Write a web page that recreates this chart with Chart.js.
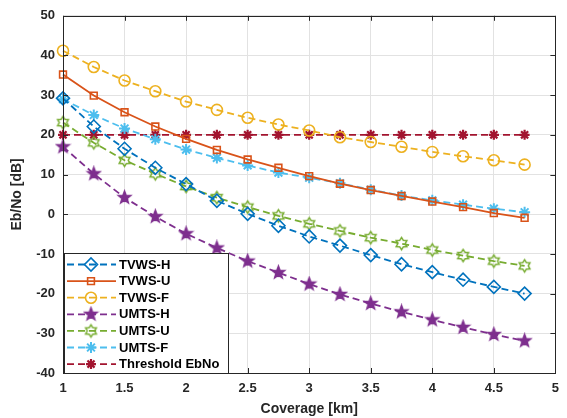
<!DOCTYPE html>
<html>
<head>
<meta charset="utf-8">
<script src="https://cdn.jsdelivr.net/npm/chart.js@4.4.0/dist/chart.umd.min.js"></script>
<style>
  html, body { margin: 0; padding: 0; background: #fff; }
  #wrap { width: 567px; height: 418px; }
</style>
</head>
<body>
<div id="wrap"><canvas id="myChart" width="567" height="418"></canvas></div>
<script>
// coverage in km
const coverage = [1, 1.25, 1.5, 1.75, 2, 2.25, 2.5, 2.75, 3, 3.25, 3.5, 3.75, 4, 4.25, 4.5, 4.75];

// Eb/No in dB
const tvwsH = [29.2, 22.1, 16.5, 11.7, 7.6, 3.4, 0.1, -2.9, -5.6, -7.9, -10.3, -12.6, -14.6, -16.5, -18.3, -20.0];
const tvwsU = [35.2, 29.9, 25.7, 22.1, 19.0, 16.2, 13.8, 11.7, 9.6, 7.7, 6.1, 4.6, 3.2, 1.8, 0.3, -0.9];
const tvwsF = [41.2, 37.1, 33.7, 31.0, 28.4, 26.3, 24.3, 22.6, 21.1, 19.4, 18.2, 17.0, 15.7, 14.6, 13.6, 12.5];
const umtsH = [17.0, 10.2, 4.2, -0.6, -4.9, -8.5, -11.8, -14.7, -17.6, -20.2, -22.5, -24.6, -26.6, -28.5, -30.3, -31.9];
const umtsU = [23.1, 18.0, 13.6, 10.2, 7.0, 4.2, 1.8, -0.4, -2.4, -4.2, -5.9, -7.4, -9.0, -10.4, -11.8, -13.0];
const umtsF = [29.0, 25.0, 21.6, 18.9, 16.3, 14.2, 12.3, 10.5, 9.2, 7.8, 6.2, 4.7, 3.5, 2.4, 1.4, 0.5];
const threshold = [20, 20, 20, 20, 20, 20, 20, 20, 20, 20, 20, 20, 20, 20, 20, 20];

const xTickLabels = ["1", "1.5", "2", "2.5", "3", "3.5", "4", "4.5", "5"];
const yTicks = [50, 40, 30, 20, 10, 0, -10, -20, -30, -40];

const names = ["TVWS-H", "TVWS-U", "TVWS-F", "UMTS-H", "UMTS-U", "UMTS-F", "Threshold EbNo"];
const colors = ["#0072BD", "#D95319", "#EDB120", "#7E2F8E", "#77AC30", "#4DBEEE", "#A2142F"];

// star shaped markers Chart.js doesn't have
function starMarker(n, R, ratio, color, filled) {
  const c = document.createElement("canvas");
  const s = Math.ceil(R * 2 + 4);
  c.width = s; c.height = s;
  const g = c.getContext("2d");
  g.beginPath();
  for (let i = 0; i < n * 2; i++) {
    const r = i % 2 === 0 ? R : R * ratio;
    const a = -Math.PI / 2 + i * Math.PI / n;
    const px = s / 2 + r * Math.cos(a), py = s / 2 + r * Math.sin(a);
    if (i === 0) g.moveTo(px, py); else g.lineTo(px, py);
  }
  g.closePath();
  if (filled) { g.fillStyle = color; g.fill(); }
  g.strokeStyle = color;
  g.lineWidth = 1.5;
  g.stroke();
  return c;
}

const pentagram = starMarker(5, 6.5, 0.42, colors[3], true);
const hexagram = starMarker(6, 6.2, 0.6, colors[4], false);

function series(i, values, style, radius, dashed, bw) {
  return {
    label: names[i],
    data: coverage.map((x, k) => ({ x: x, y: values[k] })),
    borderColor: colors[i],
    backgroundColor: "rgba(0,0,0,0)",
    borderWidth: 1.8,
    borderDash: dashed ? [7, 4] : [],
    pointStyle: style,
    pointRadius: radius,
    pointBorderWidth: bw || 1.6,
    pointBorderColor: colors[i],
    pointBackgroundColor: "rgba(0,0,0,0)",
    tension: 0,
    clip: false
  };
}

const frame = {
  id: "frame",
  afterDatasetsDraw(chart) {
    const ctx = chart.ctx, a = chart.chartArea;
    const xs = chart.scales.x, ys = chart.scales.y;
    ctx.save();
    ctx.strokeStyle = "#262626";
    ctx.lineWidth = 1;
    ctx.strokeRect(Math.round(a.left) + 0.5, Math.round(a.top) + 0.5, Math.round(a.right - a.left), Math.round(a.bottom - a.top));
    // inside ticks
    ctx.beginPath();
    xs.ticks.forEach(t => {
      const px = Math.round(xs.getPixelForValue(t.value)) + 0.5;
      ctx.moveTo(px, a.bottom); ctx.lineTo(px, a.bottom - 5);
      ctx.moveTo(px, a.top); ctx.lineTo(px, a.top + 5);
    });
    ys.ticks.forEach(t => {
      const py = Math.round(ys.getPixelForValue(t.value)) + 0.5;
      ctx.moveTo(a.left, py); ctx.lineTo(a.left + 5, py);
      ctx.moveTo(a.right, py); ctx.lineTo(a.right - 5, py);
    });
    ctx.stroke();

    // legend box, bottom-left inside the axes
    const x0 = Math.round(a.left) + 1, w = 164, h = 120;
    const y0 = Math.round(a.bottom) - h;
    ctx.fillStyle = "#fff";
    ctx.fillRect(x0, y0, w, h);
    ctx.strokeStyle = "#262626";
    ctx.strokeRect(x0 + 0.5, y0 + 0.5, w, h);
    ctx.font = "bold 13px 'Liberation Sans', Arial, sans-serif";
    ctx.textBaseline = "middle";
    chart.data.datasets.forEach((ds, i) => {
      const y = y0 + 11.5 + i * 16.6;
      ctx.save();
      ctx.strokeStyle = ds.borderColor;
      ctx.lineWidth = ds.borderWidth;
      ctx.setLineDash(ds.borderDash);
      ctx.beginPath();
      ctx.moveTo(x0 + 3, y); ctx.lineTo(x0 + 52, y);
      ctx.stroke();
      ctx.restore();
      ctx.save();
      ctx.strokeStyle = ds.borderColor;
      ctx.fillStyle = "rgba(0,0,0,0)";
      ctx.lineWidth = ds.pointBorderWidth;
      ctx.setLineDash([]);
      Chart.helpers.drawPoint(ctx, {
        pointStyle: ds.pointStyle,
        radius: ds.pointRadius,
        borderWidth: ds.pointBorderWidth,
        rotation: 0
      }, x0 + 27, y);
      ctx.restore();
      ctx.fillStyle = "#000";
      ctx.fillText(ds.label, x0 + 55, y + 0.5);
    });
    ctx.restore();
  }
};

const tickFont = { family: "'Liberation Sans', Arial, sans-serif", size: 13, weight: "bold" };

new Chart("myChart", {
  type: "line",
  data: {
    datasets: [
      series(0, tvwsH, "rectRot", 6.5, true),
      series(1, tvwsU, "rect", 4.8, false),
      series(2, tvwsF, "circle", 5.5, true),
      series(3, umtsH, pentagram, 7, true),
      series(4, umtsU, hexagram, 6.5, true),
      series(5, umtsF, "star", 5.5, true, 2),
      series(6, threshold, "star", 5, true, 2.2)
    ]
  },
  options: {
    responsive: false,
    animation: false,
    layout: { padding: { top: 15, right: 7, left: 0, bottom: 0 } },
    plugins: {
      legend: { display: false },
      tooltip: { enabled: false }
    },
    scales: {
      x: {
        type: "linear",
        min: 1,
        max: 5,
        afterFit(s) { s.height = 45; },
        ticks: {
          stepSize: 0.5, color: "#262626", font: tickFont, padding: 8, maxRotation: 0,
          callback: (v, i) => xTickLabels[i]
        },
        grid: { color: "#e2e2e2", drawTicks: false },
        border: { display: false },
        title: { display: true, text: "Coverage [km]", color: "#262626", font: { family: tickFont.family, size: 14, weight: "bold" }, padding: { top: 0, bottom: 0 } }
      },
      y: {
        min: -40,
        max: 50,
        afterFit(s) { s.width = 63; },
        afterBuildTicks(s) { s.ticks = yTicks.map(v => ({ value: v })); },
        ticks: { color: "#262626", font: tickFont, padding: 8 },
        grid: { color: "#e2e2e2", drawTicks: false },
        border: { display: false },
        title: { display: true, text: "Eb/No [dB]", color: "#262626", font: { family: tickFont.family, size: 14, weight: "bold" }, padding: { top: 9, bottom: 0 } }
      }
    }
  },
  plugins: [frame]
});
</script>
</body>
</html>
